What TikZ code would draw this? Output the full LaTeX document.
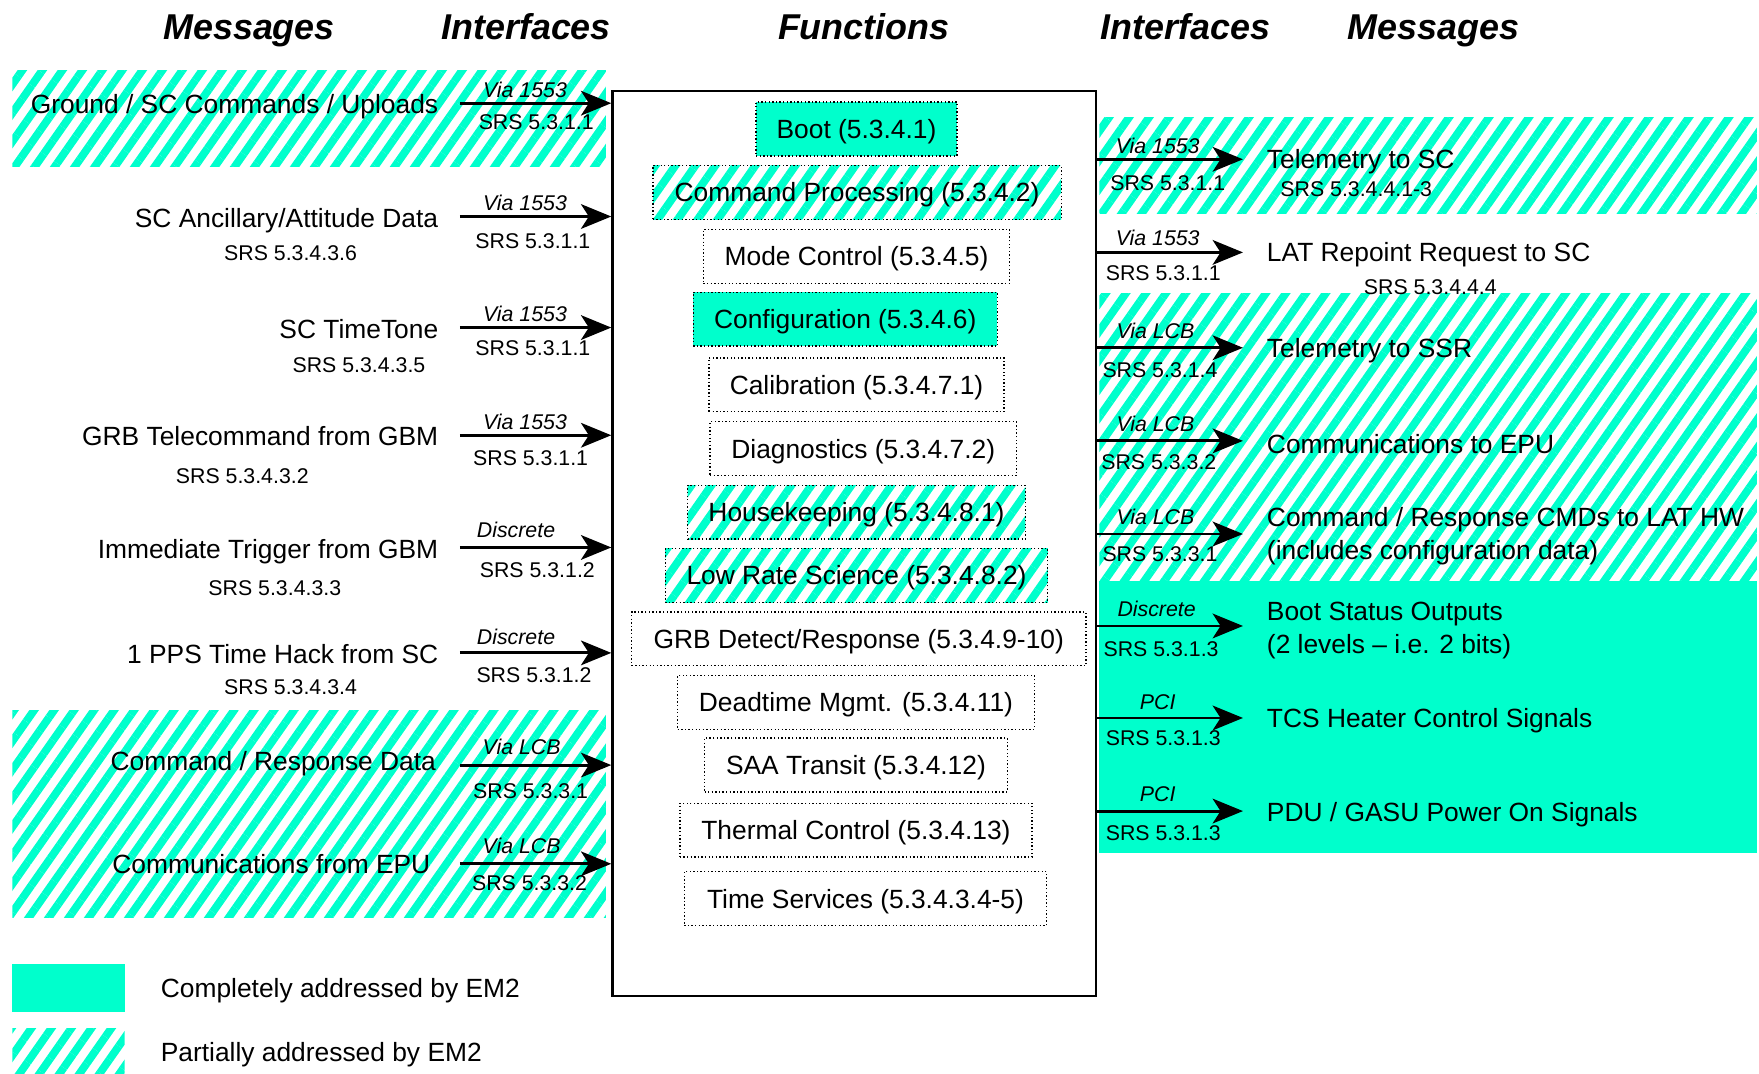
\documentclass[tikz,border=0pt]{standalone}
\usepackage{fontspec}
\setmainfont{Liberation Sans}
\usetikzlibrary{arrows.meta,patterns.meta}
\definecolor{emteal}{RGB}{0,255,204}
\tikzset{
  hatchfill/.style={pattern={Lines[angle=55,distance=7.3pt,line width=3.5pt]},pattern color=emteal},
  tealfill/.style={fill=emteal},
  hatchbox/.style={preaction={solid,hatchfill}},
  hdr/.style={font=\fontsize{16}{19}\selectfont\bfseries\itshape,inner sep=0pt,text height=11.46pt,text depth=0pt},
  msg/.style={font=\fontsize{11.75}{14.5}\selectfont,inner sep=0pt,text height=8.41pt,text depth=0pt},
  twoline/.style={align=left,text height=22.91pt,text depth=0pt},
  srslbl/.style={font=\fontsize{9.5}{11}\selectfont,inner sep=0pt,text height=6.8pt,text depth=0pt},
  vialbl/.style={font=\fontsize{9.5}{11}\selectfont\itshape,inner sep=0pt,text height=6.8pt,text depth=0pt},
  fn/.style={draw,densely dotted,line width=0.6pt,font=\fontsize{11.75}{14}\selectfont,minimum height=24pt,inner sep=0pt,text height=8.41pt,text depth=0pt},
  arr/.style={-{Stealth[length=13.5pt,width=11pt,inset=3.5pt]},line width=1.3pt},
}
\begin{document}
\begin{tikzpicture}[x=0.5pt,y=-0.5pt]
\useasboundingbox (0,0) rectangle (1568,956.5);
% headers
\node[hdr] (h1) at (222,24) {Messages};
\node[hdr] (h2) at (469,24) {Interfaces};
\node[hdr] (h3) at (770,24) {Functions};
\node[hdr] (h4) at (1057,24) {Interfaces};
\node[hdr] (h5) at (1278,24) {Messages};
% background regions
\path[hatchfill] (11,63) rectangle (540,148);
\path[hatchfill] (11,633) rectangle (540,818);
\path[hatchfill] (980,105) rectangle (1566,190);
\path[hatchfill] (980,262) rectangle (1566,518);
\path[tealfill] (980,518) rectangle (1566,760);
% central box
\node[draw,fill=white,line width=1.1pt,minimum width=215.5pt,minimum height=403.5pt,inner sep=0pt] (fbox) at (761.5,484.5) {};
% function boxes
\node[fn,tealfill,minimum width=89.5pt] (f1) at (763.5,115) {Boot (5.3.4.1)};
\node[fn,hatchbox,minimum width=182pt] (f2) at (764,171.5) {Command Processing (5.3.4.2)};
\node[fn,minimum width=136.5pt] (f3) at (763.5,228.5) {Mode Control (5.3.4.5)};
\node[fn,tealfill,minimum width=135.5pt] (f4) at (753.5,284.5) {Configuration (5.3.4.6)};
\node[fn,minimum width=131.5pt] (f5) at (763.5,343) {Calibration (5.3.4.7.1)};
\node[fn,minimum width=136.5pt] (f6) at (769.5,400) {Diagnostics (5.3.4.7.2)};
\node[fn,hatchbox,minimum width=150.5pt] (f7) at (763.5,456.5) {Housekeeping (5.3.4.8.1)};
\node[fn,hatchbox,minimum width=170.5pt] (f8) at (763.5,513) {Low Rate Science (5.3.4.8.2)};
\node[fn,minimum width=202.5pt] (f9) at (765.5,569.5) {GRB Detect/Response (5.3.4.9-10)};
\node[fn,minimum width=159pt] (f10) at (763,626) {Deadtime Mgmt. (5.3.4.11)};
\node[fn,minimum width=135pt] (f11) at (763,682) {SAA Transit (5.3.4.12)};
\node[fn,minimum width=157pt] (f12) at (763,740) {Thermal Control (5.3.4.13)};
\node[fn,minimum width=161.5pt] (f13) at (771.5,801) {Time Services (5.3.4.3.4-5)};
% left messages
\node[msg,anchor=east] (m1) at (391,92.5) {Ground / SC Commands / Uploads};
\node[msg,anchor=east] (m2) at (391,194) {SC Ancillary/Attitude Data};
\node[srslbl] (m2s) at (259,225) {SRS 5.3.4.3.6};
\node[msg,anchor=east] (m3) at (391,293) {SC TimeTone};
\node[srslbl] (m3s) at (320,325) {SRS 5.3.4.3.5};
\node[msg,anchor=east] (m4) at (391,389) {GRB Telecommand from GBM};
\node[srslbl] (m4s) at (216,424) {SRS 5.3.4.3.2};
\node[msg,anchor=east] (m5) at (391,489) {Immediate Trigger from GBM};
\node[srslbl] (m5s) at (245,524) {SRS 5.3.4.3.3};
\node[msg,anchor=east] (m6) at (391,583) {1 PPS Time Hack from SC};
\node[srslbl] (m6s) at (259,612) {SRS 5.3.4.3.4};
\node[msg,anchor=east] (m7) at (389,678) {Command / Response Data};
\node[msg,anchor=east] (m8) at (384,770) {Communications from EPU};
% left arrows
\foreach \n/\y in {1/92,2/193,3/292,4/388,5/488,6/582,7/682,8/770}{
  \coordinate (l\n) at (410,\y);
  \draw[arr] (l\n) -- (l\n -| fbox.west);
}
\node[vialbl] (lv1) at (468,80) {Via 1553};
\node[srslbl] (ls1) at (478,109) {SRS 5.3.1.1};
\node[vialbl] (lv2) at (468,181) {Via 1553};
\node[srslbl] (ls2) at (475,215) {SRS 5.3.1.1};
\node[vialbl] (lv3) at (468,280) {Via 1553};
\node[srslbl] (ls3) at (475,310) {SRS 5.3.1.1};
\node[vialbl] (lv4) at (468,376) {Via 1553};
\node[srslbl] (ls4) at (473,408) {SRS 5.3.1.1};
\node[vialbl] (lv5) at (460,472) {Discrete};
\node[srslbl] (ls5) at (479,508) {SRS 5.3.1.2};
\node[vialbl] (lv6) at (460,568) {Discrete};
\node[srslbl] (ls6) at (476,602) {SRS 5.3.1.2};
\node[vialbl] (lv7) at (465,666) {Via LCB};
\node[srslbl] (ls7) at (473,705) {SRS 5.3.3.1};
\node[vialbl] (lv8) at (465,754) {Via LCB};
\node[srslbl] (ls8) at (472,787) {SRS 5.3.3.2};
% right arrows
\foreach \n/\y in {1/142,2/225,3/310,4/393,5/476,6/558,7/640,8/723}{
  \coordinate (r\n) at (1108,\y);
  \draw[arr] (r\n -| fbox.east) -- (r\n);
}
\node[vialbl] (rv1) at (1032,130) {Via 1553};
\node[srslbl] (rs1) at (1041,163) {SRS 5.3.1.1};
\node[vialbl] (rv2) at (1032,212) {Via 1553};
\node[srslbl] (rs2) at (1037,243) {SRS 5.3.1.1};
\node[vialbl] (rv3) at (1030,295) {Via LCB};
\node[srslbl] (rs3) at (1034,330) {SRS 5.3.1.4};
\node[vialbl] (rv4) at (1030,378) {Via LCB};
\node[srslbl] (rs4) at (1033,412) {SRS 5.3.3.2};
\node[vialbl] (rv5) at (1030,461) {Via LCB};
\node[srslbl] (rs5) at (1034,494) {SRS 5.3.3.1};
\node[vialbl] (rv6) at (1031,543) {Discrete};
\node[srslbl] (rs6) at (1035,578) {SRS 5.3.1.3};
\node[vialbl] (rv7) at (1032,626) {PCI};
\node[srslbl] (rs7) at (1037,658) {SRS 5.3.1.3};
\node[vialbl] (rv8) at (1032,708) {PCI};
\node[srslbl] (rs8) at (1037,742) {SRS 5.3.1.3};
% right messages
\node[msg,anchor=west] (n1) at (1129,142) {Telemetry to SC};
\node[srslbl] (n1s) at (1209,168) {SRS 5.3.4.4.1-3};
\node[msg,anchor=west] (n2) at (1129,225) {LAT Repoint Request to SC};
\node[srslbl] (n2s) at (1275,256) {SRS 5.3.4.4.4};
\node[msg,anchor=west] (n3) at (1129,310) {Telemetry to SSR};
\node[msg,anchor=west] (n4) at (1129,396) {Communications to EPU};
\node[msg,twoline,anchor=west] (n5) at (1129,475.5) {Command / Response CMDs to LAT HW\\(includes configuration data)};
\node[msg,twoline,anchor=west] (n6) at (1129,559.5) {Boot Status Outputs\\(2 levels – i.e. 2 bits)};
\node[msg,anchor=west] (n7) at (1129,640) {TCS Heater Control Signals};
\node[msg,anchor=west] (n8) at (1129,724) {PDU / GASU Power On Signals};
% legend
\path[tealfill] (11,859) rectangle (111,902);
\node[msg,anchor=west] (lg1) at (143,881) {Completely addressed by EM2};
\path[hatchfill] (11,917) rectangle (111,957);
\node[msg,anchor=west] (lg2) at (143,938) {Partially addressed by EM2};
\end{tikzpicture}
\end{document}
